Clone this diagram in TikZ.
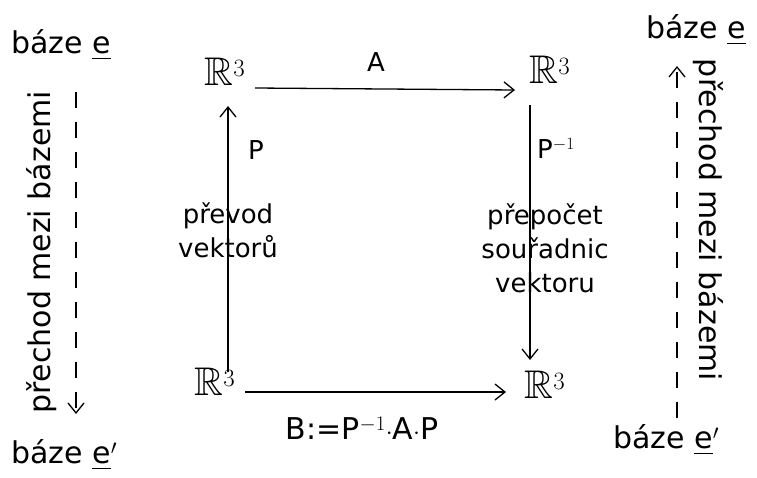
\documentclass[tikz,border=0pt]{standalone}
\usepackage{amssymb}
\usepackage{fontspec}
\setmainfont{DejaVu Sans}
\usetikzlibrary{arrows.meta}
\tikzset{
  lbl/.style={font=\fontsize{26}{34}\selectfont, inner sep=1pt},
  big/.style={font=\fontsize{30}{34}\selectfont, inner sep=1pt},
  sp/.style={font=\fontsize{40}{44}\selectfont, inner sep=1pt},
  arr/.style={-{Straight Barb[length=10pt,width=16pt,line width=1.3pt]}, line width=1.3pt},
  darr/.style={-{Straight Barb[length=10pt,width=16pt,line width=1.3pt]}, line width=1.3pt, dash pattern=on 16pt off 14pt},
}
\begin{document}
\begin{tikzpicture}[x=1pt,y=-1pt]
\useasboundingbox (0,0) rectangle (757,477);
\fill[white] (0,0) rectangle (757,477);
% spaces
\node[sp] (tl) at (225,72) {$\mathbb{R}^3$};
\node[sp] (tr) at (550,70) {$\mathbb{R}^3$};
\node[sp] (bl) at (215,382) {$\mathbb{R}^3$};
\node[sp] (br) at (545,385) {$\mathbb{R}^3$};
% basis labels
\node[big, anchor=west] (be1) at (10,45) {báze \underline{e}};
\node[big, anchor=west] (be2) at (10,455) {báze \underline{e}$'$};
\node[big, anchor=west] (be3) at (645,30) {báze \underline{e}};
\node[big, anchor=west] (be4) at (612,440) {báze \underline{e}$'$};
% main arrows
\coordinate (a1) at (255,88);
\coordinate (a2) at (515,90);
\draw[arr] (a1) -- (a2);
\node[lbl] (lA) at (376,62) {A};
\coordinate (u1) at (228,372);
\coordinate (u2) at (228,106);
\draw[arr] (u1) -- (u2);
\coordinate (d1) at (530,105);
\coordinate (d2) at (530,360);
\draw[arr] (d1) -- (d2);
\coordinate (b1) at (245,392);
\coordinate (b2) at (506,392);
\draw[arr] (b1) -- (b2);
\node[big] (lB) at (362,428) {B:=P$^{-1}\cdot$A$\cdot$P};
\node[lbl] (lP) at (256,150) {P};
\node[lbl, align=center] (lpv) at (228,230) {převod\\vektorů};
\node[lbl] (lPi) at (556,148) {P$^{-1}$};
\node[lbl, align=center] (lps) at (545,248) {přepočet\\souřadnic\\vektoru};
% dashed basis-change arrows
\coordinate (ld1) at (76,92);
\coordinate (ld2) at (76,414);
\draw[darr] (ld1) -- (ld2);
\node[big, rotate=90] (lt) at (42,252) {přechod mezi bázemi};
\coordinate (rd1) at (677,418);
\coordinate (rd2) at (677,66);
\draw[darr] (rd1) -- (rd2);
\node[big, rotate=-90] (rt) at (708,220) {přechod mezi bázemi};
\end{tikzpicture}
\end{document}
